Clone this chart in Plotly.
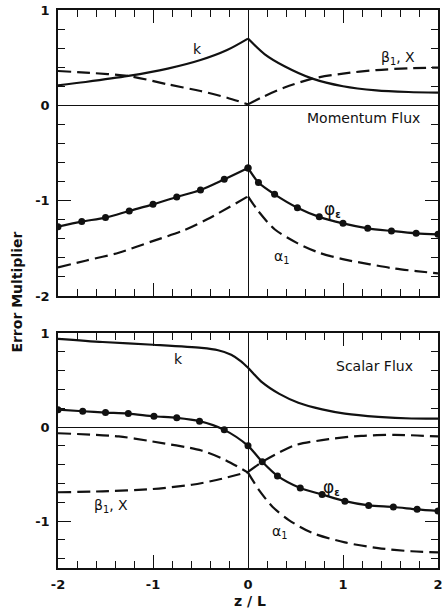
import plotly.graph_objects as go
from plotly.subplots import make_subplots

# ---------------- data: Momentum Flux (top panel) ----------------
top_k_x = [-2.0, -1.71, -1.26, -0.845, -0.5, -0.22, 0.0, 0.177, 0.384, 0.678, 1.0, 1.35, 1.69, 2.0]
top_k_y = [0.21, 0.245, 0.308, 0.385, 0.475, 0.58, 0.70, 0.535, 0.41, 0.28, 0.20, 0.157, 0.14, 0.133]

top_beta_x = [-2.0, -1.71, -1.26, -0.845, -0.5, -0.22, 0.0, 0.177, 0.384, 0.678, 1.0, 1.35, 1.69, 2.0]
top_beta_y = [0.36, 0.343, 0.308, 0.22, 0.15, 0.08, 0.01, 0.098, 0.186, 0.28, 0.333, 0.37, 0.388, 0.396]

top_phi_x = [-2.0, -1.75, -1.5, -1.25, -1.0, -0.75, -0.5, -0.25, 0.0,
             0.11, 0.28, 0.52, 0.75, 1.0, 1.26, 1.51, 1.77, 2.0]
top_phi_y = [-1.273, -1.22, -1.178, -1.108, -1.039, -0.962, -0.888, -0.776, -0.657,
             -0.81, -0.934, -1.074, -1.17, -1.238, -1.29, -1.318, -1.343, -1.353]

top_alpha_x = [-2.0, -1.71, -1.36, -1.02, -0.67, -0.43, 0.0, 0.107, 0.28, 0.523, 0.748, 1.008, 1.285, 1.527, 1.77, 2.0]
top_alpha_y = [-1.70, -1.63, -1.546, -1.43, -1.31, -1.196, -0.955, -1.108, -1.30, -1.448, -1.546, -1.616, -1.668, -1.71, -1.739, -1.763]

# ---------------- data: Scalar Flux (bottom panel) ----------------
bot_k_x = [-2.0, -1.53, -1.0, -0.49, -0.315, -0.177, -0.073, 0.0, 0.15, 0.33, 0.53, 0.78, 1.02, 1.37, 1.72, 2.0]
bot_k_y = [0.939, 0.905, 0.876, 0.842, 0.817, 0.77, 0.70, 0.632, 0.475, 0.353, 0.259, 0.188, 0.143, 0.109, 0.091, 0.09]

bot_phi_x = [-2.0, -1.74, -1.5, -1.26, -0.99, -0.75, -0.51, -0.25, 0.0,
             0.15, 0.31, 0.55, 0.78, 1.02, 1.27, 1.53, 1.78, 2.0]
bot_phi_y = [0.185, 0.168, 0.154, 0.143, 0.115, 0.098, 0.063, -0.03, -0.2,
             -0.37, -0.52, -0.649, -0.718, -0.789, -0.834, -0.851, -0.876, -0.893]

bot_beta_x = [-2.0, -1.53, -1.01, -0.59, -0.32, 0.0, 0.15, 0.32, 0.5, 0.85, 1.19, 1.54, 1.78, 2.0]
bot_beta_y = [-0.694, -0.684, -0.66, -0.614, -0.561, -0.478, -0.37, -0.275, -0.192, -0.129, -0.094, -0.083, -0.09, -0.10]

bot_alpha_x = [-2.0, -1.36, -1.01, -0.49, -0.25, 0.0, 0.12, 0.26, 0.43, 0.67, 1.02, 1.37, 1.72, 2.0]
bot_alpha_y = [-0.066, -0.10, -0.153, -0.25, -0.345, -0.485, -0.676, -0.85, -0.99, -1.124, -1.228, -1.288, -1.322, -1.333]

x_major = [-2, -1, 0, 1, 2]
x_labels = ["-2", "-1", "0", "1", "2"]
top_y_major = [1, 0, -1, -2]
top_y_labels = ["1", "0", "-1", "-2"]
bot_y_major = [1, 0, -1]
bot_y_labels = ["1", "0", "-1"]

FONT = "DejaVu Sans, Liberation Sans, Arial, sans-serif"
BLACK = "#111111"

fig = make_subplots(rows=2, cols=1, shared_xaxes=False, vertical_spacing=0.0)


def split(xs, ys):
    left = [(a, b) for a, b in zip(xs, ys) if a <= 0]
    right = [(a, b) for a, b in zip(xs, ys) if a >= 0]
    return ([p[0] for p in left], [p[1] for p in left]), ([p[0] for p in right], [p[1] for p in right])


def add_curve(xs, ys, row, dash=None, markers=False, kink=True):
    parts = split(xs, ys) if kink else [(xs, ys)]
    for px, py in parts:
        fig.add_trace(go.Scatter(
            x=px, y=py,
            mode="lines+markers" if markers else "lines",
            line=dict(color=BLACK, width=2.2, dash=dash, shape="spline", smoothing=0.8),
            marker=dict(color=BLACK, size=7),
            showlegend=False, hoverinfo="skip"),
            row=row, col=1)


DASH = "13px,6px"
add_curve(top_k_x, top_k_y, 1)
add_curve(top_beta_x, top_beta_y, 1, dash=DASH)
add_curve(top_phi_x, top_phi_y, 1, markers=True)
add_curve(top_alpha_x, top_alpha_y, 1, dash=DASH)

add_curve(bot_k_x, bot_k_y, 2, kink=False)
add_curve(bot_phi_x, bot_phi_y, 2, markers=True, kink=False)
add_curve(bot_beta_x, bot_beta_y, 2, dash=DASH)
add_curve(bot_alpha_x, bot_alpha_y, 2, dash=DASH)

axis_common = dict(
    showline=True, linecolor=BLACK, linewidth=1.5, mirror="allticks",
    ticks="inside", ticklen=13, tickwidth=1.2, tickcolor=BLACK,
    minor=dict(dtick=0.2, ticks="inside", ticklen=7, tickwidth=1.2, tickcolor=BLACK, showgrid=False),
    showgrid=False, zeroline=True, zerolinecolor=BLACK, zerolinewidth=1.2,
    tickfont=dict(family=FONT, size=13, color=BLACK, weight="bold"),
    ticklabelstandoff=4, ticklabeloverflow="allow",
)

fig.update_xaxes(range=[-2, 2], tickvals=x_major, ticktext=x_labels, **axis_common)
fig.update_xaxes(showticklabels=False, row=1, col=1)
fig.update_yaxes(**axis_common)
fig.update_yaxes(range=[-2, 1], tickvals=top_y_major, ticktext=top_y_labels, row=1, col=1)
fig.update_yaxes(range=[-1.5, 1], tickvals=bot_y_major, ticktext=bot_y_labels, row=2, col=1)

fig.update_layout(
    xaxis=dict(domain=[0, 1]),
    yaxis=dict(domain=[0.4875, 1.0]),
    yaxis2=dict(domain=[0.0, 0.421]),
    width=444, height=609,
    margin=dict(l=58, r=1, t=10, b=41),
    plot_bgcolor="white", paper_bgcolor="white",
)

lab_font = dict(family=FONT, size=14, color=BLACK)
labels = [
    (1, -0.53, 0.59, "k"),
    (1, 1.58, 0.50, "β<sub>1</sub>, X"),
    (1, 1.22, -0.13, "Momentum Flux"),
    (1, 0.886, -1.09, "<span style='font-size:17px'>φ</span><sub><b>ε</b></sub>"),
    (1, 0.357, -1.59, "α<sub>1</sub>"),
    (2, -0.73, 0.727, "k"),
    (2, 1.33, 0.65, "Scalar Flux"),
    (2, 0.88, -0.64, "<span style='font-size:17px'>φ</span><sub><b>ε</b></sub>"),
    (2, -1.44, -0.84, "β<sub>1</sub>, X"),
    (2, 0.33, -1.12, "α<sub>1</sub>"),
]
for row, x, y, t in labels:
    fig.add_annotation(x=x, y=y, text=t, showarrow=False, font=lab_font,
                       xref="x" if row == 1 else "x2", yref="y" if row == 1 else "y2")

fig.add_annotation(x=-0.109, y=0.4946, xref="paper", yref="paper", text="Error Multiplier",
                   textangle=-90, showarrow=False, xanchor="center", yanchor="middle",
                   font=dict(family=FONT, size=14, color=BLACK, weight="bold"))
fig.add_annotation(x=0.504, y=-0.059, xref="paper", yref="paper", text="z / L",
                   showarrow=False, xanchor="center", yanchor="middle",
                   font=dict(family=FONT, size=14, color=BLACK, weight="bold"))

fig.write_html("out.html", config={"displayModeBar": False},
               post_script="document.body.style.margin='0';document.body.style.overflow='hidden';")
